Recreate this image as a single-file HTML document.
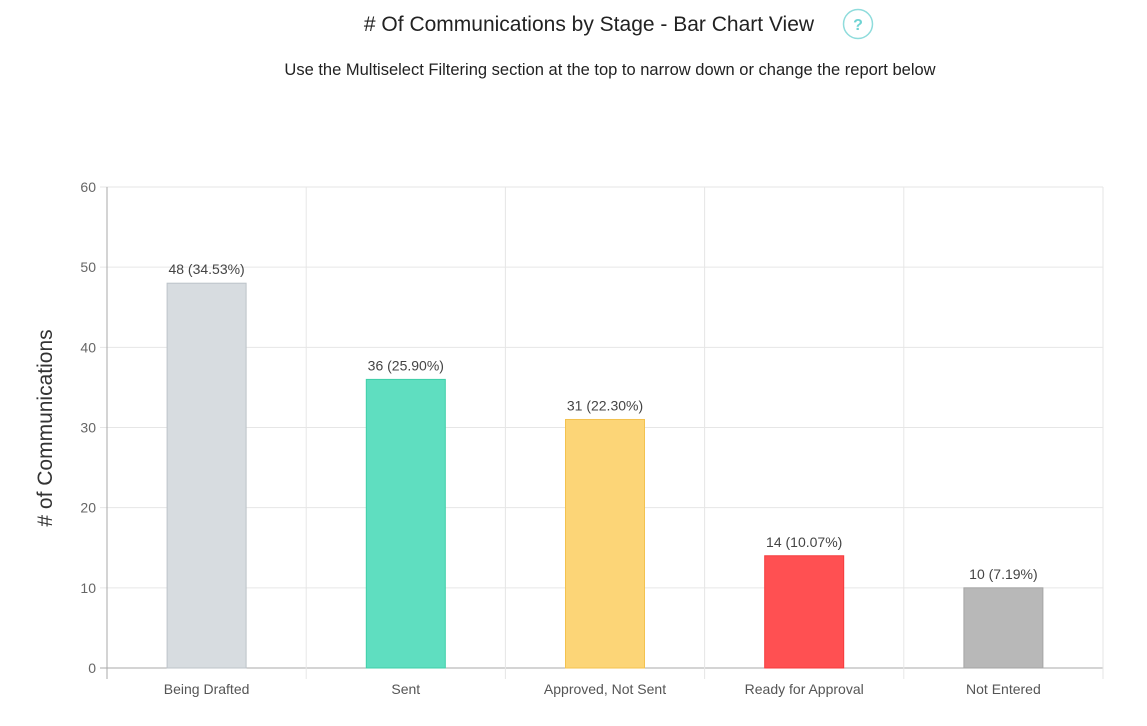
<!DOCTYPE html>
<html><head><meta charset="utf-8"><style>
body{margin:0;background:#fff;width:1147px;height:721px;overflow:hidden;font-family:"Liberation Sans",sans-serif;}
</style></head><body>
<svg width="1147" height="721" xmlns="http://www.w3.org/2000/svg">
<text x="589" y="31" text-anchor="middle" font-size="21" fill="#222" font-weight="500"># Of Communications by Stage - Bar Chart View</text>
<g><circle cx="858" cy="24" r="14.5" fill="#fff" stroke="#8fdcdc" stroke-width="1.5"/><text x="858" y="30" text-anchor="middle" font-size="16" font-weight="bold" fill="#6fd3d3">?</text></g>
<text x="610" y="75" text-anchor="middle" font-size="16.5" fill="#222">Use the Multiselect Filtering section at the top to narrow down or change the report below</text>
<text transform="translate(52,428) rotate(-90)" text-anchor="middle" font-size="21" fill="#333"># of Communications</text>
<g id="grid"></g><g id="bars"></g><g id="labels"></g>
</svg>
<script>
const categories=["Being Drafted","Sent","Approved, Not Sent","Ready for Approval","Not Entered"];
const values=[48,36,31,14,10];
const valueLabels=["48 (34.53%)","36 (25.90%)","31 (22.30%)","14 (10.07%)","10 (7.19%)"];
const colors=["#d7dce0","#5fdec0","#fcd577","#ff5052","#b8b8b8"];
const strokes=["#bcc3c9","#3fcfa8","#f3c24f","#f53a3c","#a5a5a5"];
const yTicks=[0,10,20,30,40,50,60];
const X0=107,X1=1103,Y0=668,Y1=187,YMAX=60;
const NS="http://www.w3.org/2000/svg";
const y=v=>Y0-(v/YMAX)*(Y0-Y1);
const bw=(X1-X0)/categories.length;
const xc=i=>X0+bw*(i+0.5);
function mk(t,a,p){const e=document.createElementNS(NS,t);for(const k in a)e.setAttribute(k,a[k]);p.appendChild(e);return e;}
const g=document.getElementById('grid'),b=document.getElementById('bars'),l=document.getElementById('labels');
yTicks.forEach(t=>{
 const ln=mk('line',{x1:X0-7,x2:X1,y1:y(t),y2:y(t),stroke:t===0?'#aaa':'#e6e6e6','stroke-width':1},g);
 
 
 const tx=mk('text',{x:X0-11,y:y(t)+5,'text-anchor':'end','font-size':14,fill:'#666'},g);
 tx.textContent=t;
 
 
});
for(let i=0;i<=categories.length;i++){
 const x=X0+bw*i;
 const ln=mk('line',{x1:x,x2:x,y1:Y1,y2:Y0+11,stroke:i===0?'#aaa':'#e6e6e6','stroke-width':1},g);
 
 
}
categories.forEach((c,i)=>{
 const w=79;
 const r=mk('rect',{x:xc(i)-w/2,y:y(values[i]),width:w,height:y(0)-y(values[i]),fill:colors[i],stroke:strokes[i],'stroke-width':1},b);
 
 
 const v=mk('text',{x:xc(i),y:y(values[i])-9,'text-anchor':'middle','font-size':14,fill:'#444'},l);
 v.textContent=valueLabels[i];
 
 
 const t=mk('text',{x:xc(i),y:694,'text-anchor':'middle','font-size':14,fill:'#555'},l);
 t.textContent=c;
 
 
});
</script>
</body></html>
